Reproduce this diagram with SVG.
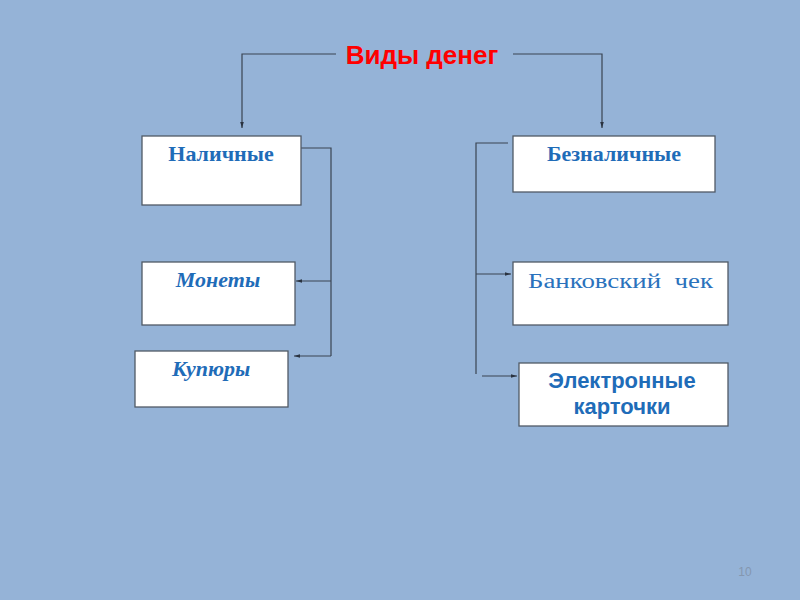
<svg xmlns="http://www.w3.org/2000/svg" width="800" height="600" viewBox="0 0 800 600">
<style>
.box{fill:#fff;stroke:#505a66;stroke-width:1.3}
.ln{fill:none;stroke:#3a4452;stroke-width:1.2}
.ser{font-family:"Liberation Serif",serif;font-weight:bold;fill:#1f6cb8;font-size:22px}
.it{font-style:italic}
</style>
<defs>
<marker id="ah" viewBox="0 0 10 10" refX="10" refY="5" markerWidth="5" markerHeight="5" orient="auto">
<path d="M0,2 L10,5 L0,8 z" fill="#2a3340"/>
</marker>
</defs>
<rect width="800" height="600" fill="#95b3d7"/>
<g id="title"><text x="422" y="64" text-anchor="middle" font-family="Liberation Sans,sans-serif" font-weight="bold" font-size="26" fill="#ff0000">Виды денег</text></g>
<g id="connectors">
<path class="ln" d="M336,54 H242 V128" marker-end="url(#ah)"/>
<path class="ln" d="M513,54 H602 V128" marker-end="url(#ah)"/>
<path class="ln" d="M301,148 H331 V356"/>
<path class="ln" d="M331,281 H296" marker-end="url(#ah)"/>
<path class="ln" d="M331,356 H294" marker-end="url(#ah)"/>
<path class="ln" d="M508,143 H476 V374"/>
<path class="ln" d="M476,274 H511" marker-end="url(#ah)"/>
<path class="ln" d="M482,376 H517" marker-end="url(#ah)"/>
</g>
<g id="nalichnye"><rect class="box" x="142" y="136" width="159" height="69"/><text class="ser" x="221" y="161" text-anchor="middle">Наличные</text></g>
<g id="monety"><rect class="box" x="142" y="262" width="153" height="63"/><text class="ser it" x="218" y="287" text-anchor="middle">Монеты</text></g>
<g id="kupyury"><rect class="box" x="135" y="351" width="153" height="56"/><text class="ser it" x="172" y="376">Купюры</text></g>
<g id="beznal"><rect class="box" x="513" y="136" width="202" height="56"/><text class="ser" x="614" y="161" text-anchor="middle">Безналичные</text></g>
<g id="bank"><rect class="box" x="513" y="262" width="215" height="63"/><text x="528" y="288" font-family="Liberation Serif,serif" font-size="20" fill="#2a72bc" textLength="185" lengthAdjust="spacingAndGlyphs" xml:space="preserve">Банковский  чек</text></g>
<g id="elektr"><rect class="box" x="519" y="363" width="209" height="63"/><text font-family="Liberation Sans,sans-serif" font-weight="bold" font-size="22" fill="#1f6cb8" text-anchor="middle"><tspan x="622" y="388">Электронные</tspan><tspan x="622" y="414">карточки</tspan></text></g>
<text x="745" y="576" text-anchor="middle" font-family="Liberation Sans,sans-serif" font-size="12" fill="#8497b0">10</text>
</svg>
